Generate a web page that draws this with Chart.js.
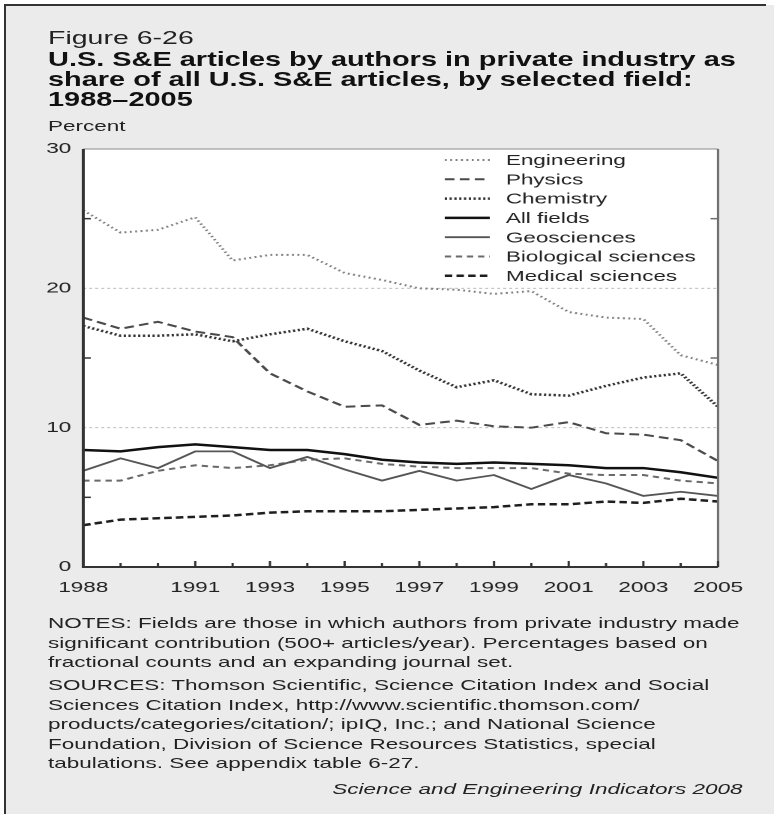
<!DOCTYPE html>
<html>
<head>
<meta charset="utf-8">
<script src="https://cdn.jsdelivr.net/npm/chart.js@4.4.1/dist/chart.umd.min.js"></script>
<style>
  html, body { margin: 0; padding: 0; background: #fff; }
  body { width: 774px; height: 814px; position: relative; overflow: hidden;
         font-family: "Liberation Sans", Arial, Helvetica, sans-serif; color: #222; }
  #panel { position: absolute; left: 4px; top: 5px; width: 770px; height: 809px;
           background: #ebebeb; border-left: 2px solid #333; box-sizing: border-box; }
  #topline { position: absolute; left: 4px; top: 4px; width: 762px; height: 2px; background: #333; }
  /* the reference is stretched 1.5x horizontally, so lay out at 516px and stretch */
  #stage { position: absolute; left: 0; top: 0; width: 516px; height: 814px;
           transform: scaleX(1.5); transform-origin: 0 0; }
  #stage > * { position: absolute; margin: 0; white-space: nowrap; }
  #fig { left: 32px; top: 28px; font-size: 19px; line-height: 20px; color: #222; }
  #title { left: 32px; top: 50px; font-size: 19.3px; line-height: 20px; font-weight: bold; color: #111; }
  #unit { left: 32px; top: 117px; font-size: 15px; line-height: 17px; }
  #notes { left: 32px; top: 613px; font-size: 15px; line-height: 19.5px; }
  #notes p { margin: 0; }
  #notes p + p { margin-top: 3.5px; }
  #credit { right: 21px; top: 779px; font-size: 15px; line-height: 19.5px; font-style: italic; }
  #chart { left: 0; top: 130px; }
</style>
</head>
<body>
<div id="panel"></div>
<div id="topline"></div>
<div id="stage">
  <div id="fig">Figure 6-26</div>
  <div id="title">U.S. S&amp;E articles by authors in private industry as<br>share of all U.S. S&amp;E articles, by selected field:<br>1988–2005</div>
  <div id="unit">Percent</div>
  <canvas id="chart" width="516" height="475"></canvas>
  <div id="notes">
    <p>NOTES: Fields are those in which authors from private industry made<br>significant contribution (500+ articles/year). Percentages based on<br>fractional counts and an expanding journal set.</p>
    <p>SOURCES: Thomson Scientific, Science Citation Index and Social<br>Sciences Citation Index, http://www.scientific.thomson.com/<br>products/categories/citation/; ipIQ, Inc.; and National Science<br>Foundation, Division of Science Resources Statistics, special<br>tabulations. See appendix table 6-27.</p>
  </div>
  <div id="credit">Science and Engineering Indicators 2008</div>
</div>

<script>
const years = ["1988", "1989", "1990", "1991", "1992", "1993", "1994", "1995", "1996",
               "1997", "1998", "1999", "2000", "2001", "2002", "2003", "2004", "2005"];
const labeledYears = ["1988", "1991", "1993", "1995", "1997", "1999", "2001", "2003", "2005"];
const yTicks = [0, 10, 20, 30];

const engineering = [25.6, 24.0, 24.2, 25.1, 22.0, 22.4, 22.4, 21.1, 20.6, 20.0, 19.9, 19.6, 19.8, 18.3, 17.9, 17.8, 15.2, 14.5];
const physics     = [17.9, 17.1, 17.6, 16.9, 16.5, 13.9, 12.6, 11.5, 11.6, 10.2, 10.5, 10.1, 10.0, 10.4, 9.6, 9.5, 9.1, 7.6];
const chemistry   = [17.3, 16.6, 16.6, 16.7, 16.2, 16.7, 17.1, 16.2, 15.5, 14.1, 12.9, 13.4, 12.4, 12.3, 13.0, 13.6, 13.9, 11.5];
const allFields   = [8.4, 8.3, 8.6, 8.8, 8.6, 8.4, 8.4, 8.1, 7.7, 7.5, 7.4, 7.5, 7.4, 7.3, 7.1, 7.1, 6.8, 6.4];
const geosciences = [6.9, 7.8, 7.1, 8.3, 8.3, 7.1, 7.9, 7.0, 6.2, 6.9, 6.2, 6.6, 5.6, 6.6, 6.0, 5.1, 5.4, 5.1];
const biological  = [6.2, 6.2, 6.9, 7.3, 7.1, 7.3, 7.7, 7.8, 7.4, 7.2, 7.1, 7.1, 7.1, 6.7, 6.6, 6.6, 6.2, 6.0];
const medical     = [3.0, 3.4, 3.5, 3.6, 3.7, 3.9, 4.0, 4.0, 4.0, 4.1, 4.2, 4.3, 4.5, 4.5, 4.7, 4.6, 4.9, 4.7];

const FONT = '"Liberation Sans", Arial, Helvetica, sans-serif';
Chart.defaults.font.family = FONT;
Chart.defaults.color = "#222";

// white plot area, dotted grid at 10/20, axis frame and inward ticks
const framePlugin = {
  id: "frame",
  beforeDatasetsDraw(chart) {
    const { ctx, chartArea: a, scales: { y } } = chart;
    ctx.save();
    ctx.fillStyle = "#fff";
    ctx.fillRect(a.left, a.top, a.right - a.left, a.bottom - a.top);
    ctx.strokeStyle = "#bdbdbd";
    ctx.lineWidth = 1;
    ctx.setLineDash([2, 2]);
    for (const v of [10, 20]) {
      const py = y.getPixelForValue(v);
      ctx.beginPath(); ctx.moveTo(a.left, py); ctx.lineTo(a.right, py); ctx.stroke();
    }
    ctx.restore();
  },
  afterDatasetsDraw(chart) {
    const { ctx, chartArea: a, scales: { x, y } } = chart;
    ctx.save();
    ctx.setLineDash([]);
    // top and right
    ctx.strokeStyle = "#8a8a8a"; ctx.lineWidth = 1;
    ctx.beginPath(); ctx.moveTo(a.left, a.top); ctx.lineTo(a.right, a.top); ctx.stroke();
    ctx.strokeStyle = "#6e6e6e"; ctx.lineWidth = 1.5;
    ctx.beginPath(); ctx.moveTo(a.right, a.top); ctx.lineTo(a.right, a.bottom); ctx.stroke();
    // left and bottom
    ctx.strokeStyle = "#333"; ctx.lineWidth = 2;
    ctx.beginPath(); ctx.moveTo(a.left, a.top); ctx.lineTo(a.left, a.bottom); ctx.lineTo(a.right, a.bottom); ctx.stroke();
    ctx.lineWidth = 1.5;
    years.forEach((yr, i) => {
      const px = x.getPixelForValue(i);
      const len = labeledYears.includes(yr) ? 6 : 4;
      ctx.beginPath(); ctx.moveTo(px, a.bottom); ctx.lineTo(px, a.bottom - len); ctx.stroke();
    });
    for (const v of [5, 15, 25]) {
      const py = y.getPixelForValue(v);
      ctx.beginPath(); ctx.moveTo(a.left, py); ctx.lineTo(a.left + 5, py); ctx.stroke();
    }
    ctx.strokeStyle = "#6e6e6e";
    for (const v of [15, 25]) {
      const py = y.getPixelForValue(v);
      ctx.beginPath(); ctx.moveTo(a.right, py); ctx.lineTo(a.right - 5, py); ctx.stroke();
    }
    ctx.restore();
  }
};

// legend sits inside the plot, top right
const legendPlugin = {
  id: "insideLegend",
  afterDraw(chart) {
    const { ctx, chartArea: a } = chart;
    const x0 = a.left + 241, y0 = a.top + 11, row = 19.3;
    chart.data.datasets.forEach((ds, i) => {
      const py = y0 + i * row;
      ctx.save();
      ctx.strokeStyle = ds.borderColor;
      ctx.lineWidth = ds.borderWidth;
      ctx.setLineDash(ds.borderDash || []);
      ctx.beginPath(); ctx.moveTo(x0, py); ctx.lineTo(x0 + 30, py); ctx.stroke();
      ctx.setLineDash([]);
      ctx.fillStyle = "#222";
      ctx.font = "15px " + FONT;
      ctx.textBaseline = "middle";
      ctx.fillText(ds.label, x0 + 40.7, py + 1);
      ctx.restore();
    });
  }
};

const line = (label, data, color, width, dash) => ({
  label, data,
  borderColor: color,
  borderWidth: width,
  borderDash: dash,
  pointRadius: 0,
  tension: 0,
  fill: false
});

new Chart(document.getElementById("chart"), {
  type: "line",
  data: {
    labels: years,
    datasets: [
      line("Engineering", engineering, "#808080", 2, [1.3, 2.3]),
      line("Physics", physics, "#4a4a4a", 2, [6.5, 3.5]),
      line("Chemistry", chemistry, "#333", 2.5, [1.5, 1.7]),
      line("All fields", allFields, "#111", 2.5, []),
      line("Geosciences", geosciences, "#555", 1.8, []),
      line("Biological sciences", biological, "#6a6a6a", 2, [4.2, 3.2]),
      line("Medical sciences", medical, "#1e1e1e", 2.5, [5, 2.8])
    ]
  },
  options: {
    responsive: false,
    animation: false,
    devicePixelRatio: 2,
    layout: { padding: { left: 31, right: 37.3, top: 19, bottom: 9 } },
    plugins: { legend: { display: false }, tooltip: { enabled: false } },
    scales: {
      x: {
        grid: { display: false, drawTicks: false },
        border: { display: false },
        afterFit: s => { s.height = 29; },
        ticks: {
          autoSkip: false, maxRotation: 0, padding: 12,
          font: { size: 15 },
          callback: (v, i) => labeledYears.includes(years[i]) ? years[i] : ""
        }
      },
      y: {
        min: 0, max: 30,
        afterBuildTicks: s => { s.ticks = yTicks.map(v => ({ value: v })); },
        afterFit: s => { s.width = 24.5; },
        grid: { display: false, drawTicks: false },
        border: { display: false },
        ticks: { padding: 8, font: { size: 15 } }
      }
    }
  },
  plugins: [framePlugin, legendPlugin]
});
</script>
</body>
</html>
